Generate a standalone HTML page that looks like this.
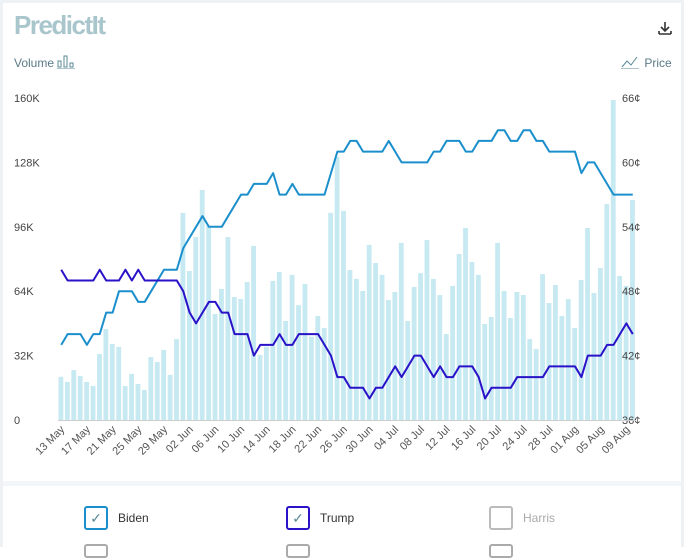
<!DOCTYPE html>
<html><head><meta charset="utf-8"><style>
body{margin:0;width:684px;height:547px;overflow:hidden;background:#fff;font-family:"Liberation Sans",sans-serif;position:relative}
.t{position:absolute;font-size:11px;color:#444}
</style></head><body>
<div style="position:absolute;left:0;top:0;width:3px;height:547px;background:#eef2f4"></div>
<div style="position:absolute;left:0;top:0;width:684px;height:3px;background:#eef2f4"></div>
<div style="position:absolute;right:0;top:0;width:3px;height:547px;background:#eef2f4"></div>
<div style="position:absolute;left:14px;top:10px;font-size:26px;font-weight:bold;color:#a9c6cc;letter-spacing:-1.5px">PredictIt</div>
<div style="position:absolute;left:657px;top:20px;font-size:14px;color:#333">
<svg width="16" height="16"><path d="M8 2v8M4 7l4 4 4-4M2 14h12M2 11v3M14 11v3" stroke="#333" stroke-width="1.6" fill="none"/></svg></div>
<div class="t" style="left:14px;top:55px;font-size:12px;color:#5a7a88">Volume <svg width="20" height="14" style="vertical-align:-2px"><rect x="1" y="6" width="3" height="6" fill="none" stroke="#5a8a96"/><rect x="7" y="1" width="3" height="11" fill="none" stroke="#5a8a96"/><rect x="13" y="8" width="3" height="4" fill="none" stroke="#5a8a96"/><line x1="0" y1="14" x2="18" y2="14" stroke="#5a8a96"/></svg></div>
<div class="t" style="left:621px;top:55px;font-size:12px;color:#5a7a88"><svg width="20" height="14" style="vertical-align:-2px"><path d="M1 12l5-6 4 4 6-8" stroke="#5a8a96" fill="none"/><line x1="0" y1="14" x2="18" y2="14" stroke="#5a8a96"/></svg> Price</div>
<svg id="c" width="684" height="480" style="position:absolute;left:0;top:0"></svg>
<div style="position:absolute;left:3px;top:481px;width:678px;height:5px;background:#f3f6f8"></div>
<div style="position:absolute;left:84px;top:506px;font-size:12px;color:#333"><span style="display:inline-block;width:20px;height:20px;border:2px solid #1b8fcc;border-radius:3px;vertical-align:middle;text-align:center;color:#5a8a96;font-size:14px;line-height:20px">✓</span><span style="margin-left:10px;vertical-align:middle">Biden</span></div>
<div style="position:absolute;left:286px;top:506px;font-size:12px;color:#333"><span style="display:inline-block;width:20px;height:20px;border:2px solid #2a12c8;border-radius:3px;vertical-align:middle;text-align:center;color:#5a8a96;font-size:14px;line-height:20px">✓</span><span style="margin-left:10px;vertical-align:middle">Trump</span></div>
<div style="position:absolute;left:489px;top:506px;font-size:12px;color:#aaa"><span style="display:inline-block;width:20px;height:20px;border:2px solid #bbb;border-radius:3px;vertical-align:middle"></span><span style="margin-left:10px;vertical-align:middle">Harris</span></div>
<div style="position:absolute;left:84px;top:544px;width:20px;height:10px;border:2px solid #aaa;border-radius:3px"></div>
<div style="position:absolute;left:286px;top:544px;width:20px;height:10px;border:2px solid #aaa;border-radius:3px"></div>
<div style="position:absolute;left:489px;top:544px;width:20px;height:10px;border:2px solid #aaa;border-radius:3px"></div>
<script>
const volume=[21.5,18.9,24.8,21.9,18.9,16.9,32.8,45.2,37.8,36.3,16.9,22.9,17.9,14.9,31.3,28.8,34.8,22.4,40.2,102.9,74,90.9,114.3,96.4,52.7,65.1,90.9,61.1,60.1,68.6,86.5,32.3,36.4,69.1,73.5,49.2,72.1,57.1,67.6,41.4,51.7,45.7,102.9,130.7,103.9,74.5,70.1,64.1,87,78,72.1,59.6,63.6,88,49.2,66.1,73,89.4,70.1,62.1,42.7,66.6,82.5,95.4,78.5,72.1,47.7,51.2,88,64.1,50.7,63.6,62.1,40.2,35.3,72.5,58.1,67.1,51.7,60.1,45.7,69.6,95.4,63.1,75.5,107.3,159,71.6,66.6,109.3];
const biden=[43,44,44,44,43,44,44,46,46,48,48,48,47,47,48,49,50,50,50,52,53,54,55,54,54,54,55,56,57,57,58,58,58,59,57,57,58,57,57,57,57,57,59,61,61,62,62,61,61,61,61,62,61,60,60,60,60,60,61,61,62,62,62,61,61,62,62,62,63,63,62,62,63,63,62,62,61,61,61,61,61,59,60,60,59,58,57,57,57,57];
const trump=[50,49,49,49,49,49,50,49,49,49,50,49,50,49,49,49,49,49,49,48,46,45,46,47,47,46,46,44,44,44,42,43,43,43,44,43,43,44,44,44,44,43,42,40,40,39,39,39,38,39,39,40,41,40,41,42,42,41,40,41,40,40,41,41,41,40,38,39,39,39,39,40,40,40,40,40,41,41,41,41,41,40,42,42,42,43,43,44,45,44];
const volTicks=[0,32,64,96,128,160];
const priceTicks=[36,42,48,54,60,66];
const months=["May","Jun","Jul","Aug"];
const startDay=13, monthLen=[31,30,31,31];
const ns="http://www.w3.org/2000/svg",svg=document.getElementById('c');
const X0=58,PW=578,Y0=420,YT=98,n=volume.length,step=PW/n;
const xC=i=>X0+i*step+step/2;
const yV=v=>Y0-(v/160)*(Y0-YT);
const yP=p=>Y0-((p-36)/30)*(Y0-YT);
function mk(t,a){const e=document.createElementNS(ns,t);for(const k in a)e.setAttribute(k,a[k]);svg.appendChild(e);return e;}
volume.forEach((v,i)=>{const r=mk('rect',{x:X0+i*step+0.5,y:yV(v),width:step-1.6,height:Y0-yV(v),fill:'#c7e9f2'});

});
volTicks.forEach(v=>{const t=mk('text',{x:14,y:yV(v)+4,'font-size':11,fill:'#444'});t.textContent=v===0?'0':v+'K';

});
priceTicks.forEach(p=>{const t=mk('text',{x:622,y:yP(p)+4,'font-size':11,fill:'#444'});t.textContent=p+'¢';

});
function line(arr,col,name){const l=mk('polyline',{points:arr.map((p,i)=>xC(i)+','+yP(p)).join(' '),fill:'none',stroke:col,'stroke-width':2,'stroke-linejoin':'round'});

}
line(biden,'#1b8fcc','biden-line');line(trump,'#2a12c8','trump-line');
mk('line',{x1:X0,y1:Y0+0.5,x2:X0+PW,y2:Y0+0.5,stroke:'#ccc'});
for(let i=0;i<n;i+=4){let d=startDay+i,m=0;while(d>monthLen[m]){d-=monthLen[m];m++;}
const lab=(d<10?'0':'')+d+' '+months[m];const x=xC(i);
const t=mk('text',{x:x+4,y:Y0+10,'font-size':11,fill:'#555','text-anchor':'end',transform:`rotate(-45 ${x+4} ${Y0+10})`});t.textContent=lab;

}
</script>
</body></html>
